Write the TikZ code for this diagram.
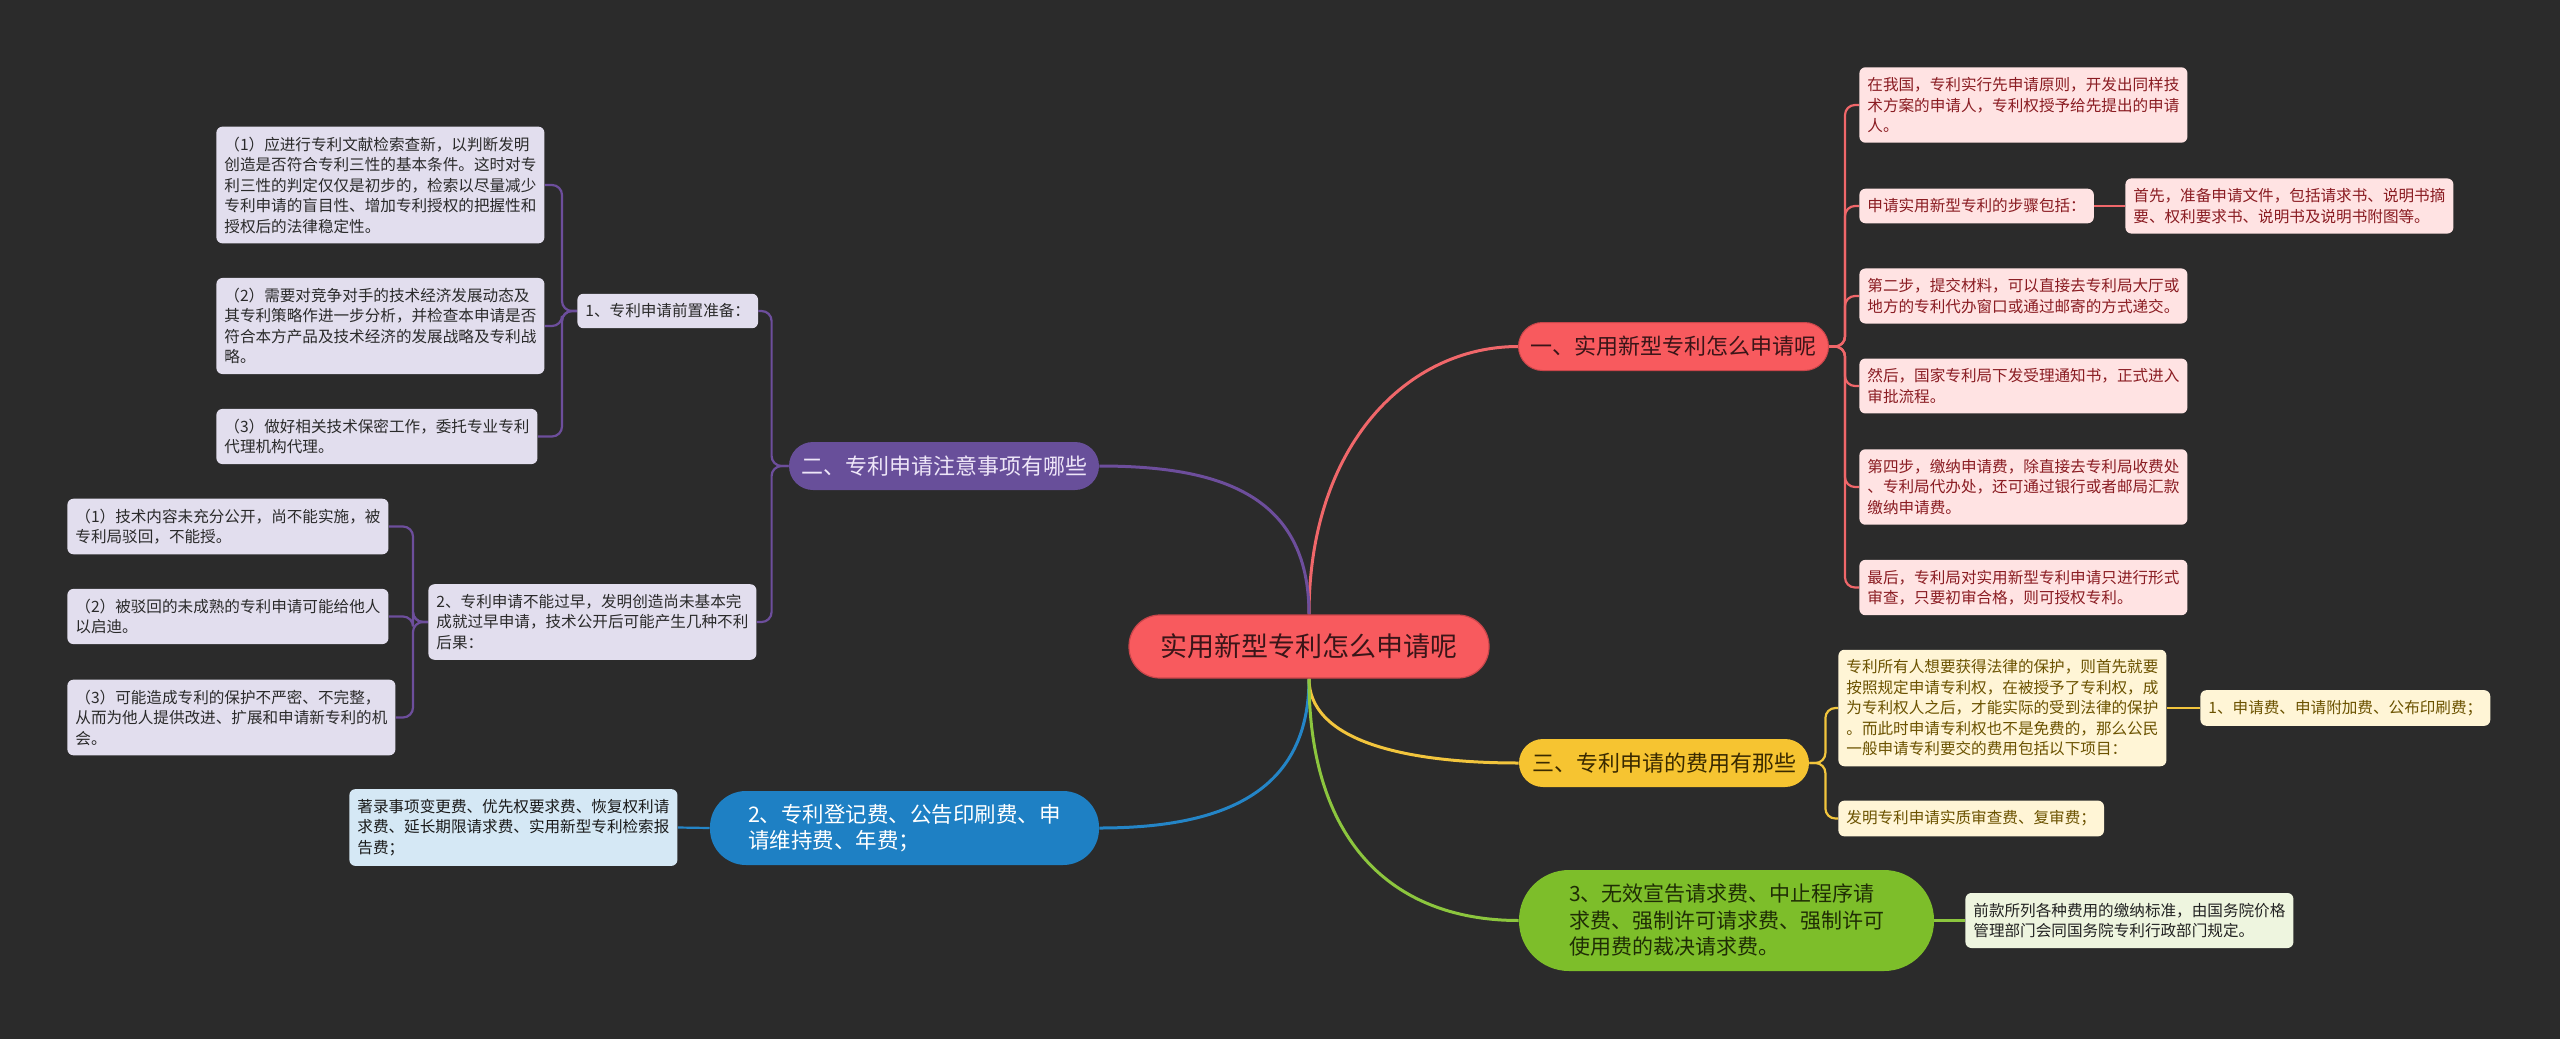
\documentclass[tikz,border=0pt]{standalone}
\usepackage{fontspec}
\setmainfont{Noto Sans CJK SC}
\pgfdeclarelayer{bgl}
\pgfdeclarelayer{lines}
\pgfsetlayers{bgl,lines,main}
\definecolor{bg}{HTML}{2B2B2B}
\definecolor{redmain}{HTML}{F85A5E}
\definecolor{reddraw}{HTML}{C9454A}
\definecolor{redtx}{HTML}{3A1518}
\definecolor{redline}{HTML}{F0676A}
\definecolor{redlf}{HTML}{FFE3E3}
\definecolor{redlftx}{HTML}{8A1C22}
\definecolor{purmain}{HTML}{684F9A}
\definecolor{purtx}{HTML}{EEE6F8}
\definecolor{purline}{HTML}{6D4E9C}
\definecolor{purlf}{HTML}{E2DEEE}
\definecolor{purlftx}{HTML}{2A2A2A}
\definecolor{blumain}{HTML}{1E80C4}
\definecolor{bluline}{HTML}{2485C7}
\definecolor{blulf}{HTML}{D5E8F5}
\definecolor{blulftx}{HTML}{1A1A1A}
\definecolor{yelmain}{HTML}{F6C431}
\definecolor{yeltx}{HTML}{3A2A00}
\definecolor{yelline}{HTML}{F2C53D}
\definecolor{yellf}{HTML}{FFF5D6}
\definecolor{yellftx}{HTML}{6B5200}
\definecolor{grnmain}{HTML}{7DBE2A}
\definecolor{grntx}{HTML}{1F2D05}
\definecolor{grnline}{HTML}{8CC63E}
\definecolor{grnlf}{HTML}{EEF5DF}
\definecolor{grnlftx}{HTML}{222222}
\begin{document}
\begin{tikzpicture}[x=0.5pt,y=-0.5pt,
  rootnode/.style={fill=redmain, draw=reddraw, line width=0.6pt, text=redtx, rounded corners=15.5pt,
    minimum width=180pt, minimum height=31.5pt, inner sep=0pt, font=\fontsize{13.5}{16}\selectfont},
  mainnode/.style={minimum height=24pt, rounded corners=12pt, inner sep=0pt, font=\fontsize{11}{13}\selectfont},
  leaf/.style={anchor=west, align=left, inner xsep=4pt, inner ysep=5pt, rounded corners=3pt,
    font=\fontsize{7.8}{10.25}\selectfont},
  redleaf/.style={leaf, fill=redlf, text=redlftx},
  purleaf/.style={leaf, fill=purlf, text=purlftx},
  bluleaf/.style={leaf, fill=blulf, text=blulftx},
  yelleaf/.style={leaf, fill=yellf, text=yellftx},
  grnleaf/.style={leaf, fill=grnlf, text=grnlftx},
  bigline/.style={line width=1.5pt},
  subline/.style={line width=1.1pt, rounded corners=5pt}
]
\begin{pgfonlayer}{bgl}
\fill[bg] (0,0) rectangle (2560,1039);
\end{pgfonlayer}
\useasboundingbox (0,0) rectangle (2560,1039);

% main nodes
\node[rootnode] (root) at (1309,646.5) {实用新型专利怎么申请呢};
\node[mainnode, fill=redmain, draw=reddraw, line width=0.5pt, text=redtx, minimum width=155pt] (n1) at (1673.5,346.5) {一、实用新型专利怎么申请呢};
\node[mainnode, fill=purmain, text=purtx, minimum width=155pt] (n2) at (944,466) {二、专利申请注意事项有哪些};
\node[mainnode, fill=yelmain, text=yeltx, minimum width=145pt] (n3) at (1664,763) {三、专利申请的费用有那些};
\node[fill=blumain, text=white, minimum width=194.5pt, minimum height=37pt, rounded corners=18pt, inner sep=0pt,
  align=left, font=\fontsize{10.75}{13.3}\selectfont] (nb) at (904.5,828) {2、专利登记费、公告印刷费、申\\请维持费、年费；};
\node[fill=grnmain, text=grntx, minimum width=207.5pt, minimum height=50.5pt, rounded corners=25pt, inner sep=0pt,
  align=left, font=\fontsize{10.5}{13.25}\selectfont] (ng) at (1726.5,920.5) {3、无效宣告请求费、中止程序请\\求费、强制许可请求费、强制许可\\使用费的裁决请求费。};

% red leaves
\node[redleaf] (r1) at (1859,105) {在我国，专利实行先申请原则，开发出同样技\\术方案的申请人，专利权授予给先提出的申请\\人。};
\node[redleaf] (r2) at (1859,206) {申请实用新型专利的步骤包括：};
\node[redleaf] (r3) at (2125,206) {首先，准备申请文件，包括请求书、说明书摘\\要、权利要求书、说明书及说明书附图等。};
\node[redleaf] (r4) at (1859,296) {第二步，提交材料，可以直接去专利局大厅或\\地方的专利代办窗口或通过邮寄的方式递交。};
\node[redleaf] (r5) at (1859,386) {然后，国家专利局下发受理通知书，正式进入\\审批流程。};
\node[redleaf] (r6) at (1859,487) {第四步，缴纳申请费，除直接去专利局收费处\\、专利局代办处，还可通过银行或者邮局汇款\\缴纳申请费。};
\node[redleaf] (r7) at (1859,587.5) {最后，专利局对实用新型专利申请只进行形式\\审查，只要初审合格，则可授权专利。};

% purple leaves
\node[purleaf] (p1) at (577,311) {1、专利申请前置准备：};
\node[purleaf] (pa) at (216,185) {（1）应进行专利文献检索查新，以判断发明\\创造是否符合专利三性的基本条件。这时对专\\利三性的判定仅仅是初步的，检索以尽量减少\\专利申请的盲目性、增加专利授权的把握性和\\授权后的法律稳定性。};
\node[purleaf] (pb) at (216,326) {（2）需要对竞争对手的技术经济发展动态及\\其专利策略作进一步分析，并检查本申请是否\\符合本方产品及技术经济的发展战略及专利战\\略。};
\node[purleaf] (pc) at (216,436.5) {（3）做好相关技术保密工作，委托专业专利\\代理机构代理。};
\node[purleaf] (p2) at (428,622) {2、专利申请不能过早，发明创造尚未基本完\\成就过早申请，技术公开后可能产生几种不利\\后果：};
\node[purleaf] (pd) at (67,526.5) {（1）技术内容未充分公开，尚不能实施，被\\专利局驳回，不能授。};
\node[purleaf] (pe) at (67,616.5) {（2）被驳回的未成熟的专利申请可能给他人\\以启迪。};
\node[purleaf] (pf) at (67,717.5) {（3）可能造成专利的保护不严密、不完整，\\从而为他人提供改进、扩展和申请新专利的机\\会。};

% blue leaf
\node[bluleaf] (b1) at (349,827.5) {著录事项变更费、优先权要求费、恢复权利请\\求费、延长期限请求费、实用新型专利检索报\\告费；};

% yellow leaves
\node[yelleaf] (y1) at (1838,708) {专利所有人想要获得法律的保护，则首先就要\\按照规定申请专利权，在被授予了专利权，成\\为专利权人之后，才能实际的受到法律的保护\\。而此时申请专利权也不是免费的，那么公民\\一般申请专利要交的费用包括以下项目：};
\node[yelleaf] (y2) at (1838,818.5) {发明专利申请实质审查费、复审费；};
\node[yelleaf] (y3) at (2200,708) {1、申请费、申请附加费、公布印刷费；};

% green leaf
\node[grnleaf] (g1) at (1965,920.5) {前款所列各种费用的缴纳标准，由国务院价格\\管理部门会同国务院专利行政部门规定。};

\begin{pgfonlayer}{lines}
% root connectors
\draw[bigline, redline] (root.north) .. controls +(0,-170) and +(-110,0) .. (n1.west);
\draw[bigline, purline] (root.north) .. controls +(0,-120) and +(120,0) .. (n2.east);
\draw[bigline, bluline] (root.south) .. controls +(0,110) and +(130,0) .. (nb.east);
\draw[bigline, yelline] (root.south) .. controls +(0,60) and +(-120,0) .. (n3.west);
\draw[bigline, grnline] (root.south) .. controls +(0,170) and +(-120,0) .. (ng.west);

% red branch
\foreach \c in {r1,r2,r4,r5,r6,r7}
  \draw[subline, redline] (n1.east) -- ++(16,0) |- (\c.west);
\draw[subline, redline] (r2.east) -- (r3.west);

% purple branch
\foreach \c in {p1,p2}
  \draw[subline, purline] (n2.west) -- ++(-17,0) |- (\c.east);
\foreach \c in {pa,pb,pc}
  \draw[subline, purline] (p1.west) -- ++(-15,0) |- (\c.east);
\foreach \c in {pd,pe,pf}
  \draw[subline, purline] (p2.west) -- ++(-15,0) |- (\c.east);

% blue branch
\draw[subline, bluline] (nb.west) -- (b1.east);

% yellow branch
\foreach \c in {y1,y2}
  \draw[subline, yelline] (n3.east) -- ++(16,0) |- (\c.west);
\draw[subline, yelline] (y1.east) -- (y3.west);

% green branch
\draw[subline, grnline] (ng.east) -- (g1.west);
\end{pgfonlayer}
\end{tikzpicture}
\end{document}
